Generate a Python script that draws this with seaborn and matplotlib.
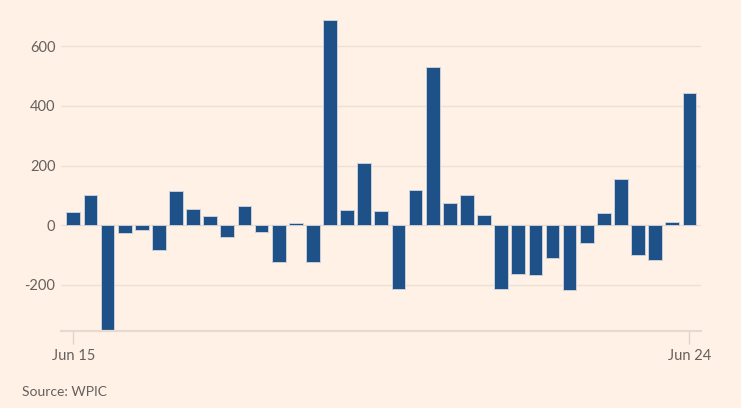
import matplotlib
matplotlib.use("Agg")
import matplotlib.pyplot as plt
import seaborn as sns
import pandas as pd

quarters = list(range(37))
values = [45, 103, -360, -27, -16, -84, 116, 55, 31, -40, 65, -21, -122, 7, -124,
          688, 50, 208, 47, -214, 120, 529, 74, 101, 34, -213, -162, -166, -111,
          -218, -61, 41, 155, -98, -115, 12, 445]
tick_labels = {0: "Jun 15", 36: "Jun 24"}
yticks = [-200, 0, 200, 400, 600]
source = "Source: WPIC"

bg = "#FFF1E5"
bar_color = "#1F5189"
text_color = "#66605C"
grid_color = "#EDE1D7"

sns.set_theme(style="white")
plt.rcParams['font.family'] = ['Lato', 'DejaVu Sans']

fig = plt.figure(figsize=(7.41, 4.08), dpi=100)
fig.patch.set_facecolor(bg)
ax = fig.add_axes([61/741, 1 - 330.7/408, 640/741, (330.7 - 10)/408])
ax.set_facecolor(bg)

df = pd.DataFrame({"q": quarters, "v": values})
sns.barplot(data=df, x="q", y="v", color=bar_color, width=0.8, ax=ax,
            edgecolor="#C9CFD8", linewidth=0.7, saturation=1, zorder=3)

ax.set_ylim(-353.3, 721.7)
ax.set_xlim(-0.72, 36.68)
ax.set_yticks(yticks)
ax.set_yticklabels([f"{t}" for t in yticks], color=text_color, fontsize=10.5)
ax.yaxis.grid(True, color=grid_color, linewidth=1.0, zorder=0)
ax.xaxis.grid(False)
ax.set_xticks(list(tick_labels.keys()))
ax.set_xticklabels(list(tick_labels.values()), color=text_color, fontsize=10.5)
ax.tick_params(axis="x", bottom=True, direction="out", length=9, width=1,
               color="#E0D5CC", pad=4)
ax.tick_params(axis="y", left=False, length=0, pad=4)
for s in ["top", "right", "left"]:
    ax.spines[s].set_visible(False)
ax.spines["bottom"].set_color("#E6DAD0")
ax.spines["bottom"].set_linewidth(1.6)
ax.spines["bottom"].set_zorder(4)
ax.set_xlabel("")
ax.set_ylabel("")

fig.text(22/741, 1 - 392/408, source, color=text_color, fontsize=10, va="center", ha="left")

fig.savefig("out.png", dpi=100, facecolor=bg)
